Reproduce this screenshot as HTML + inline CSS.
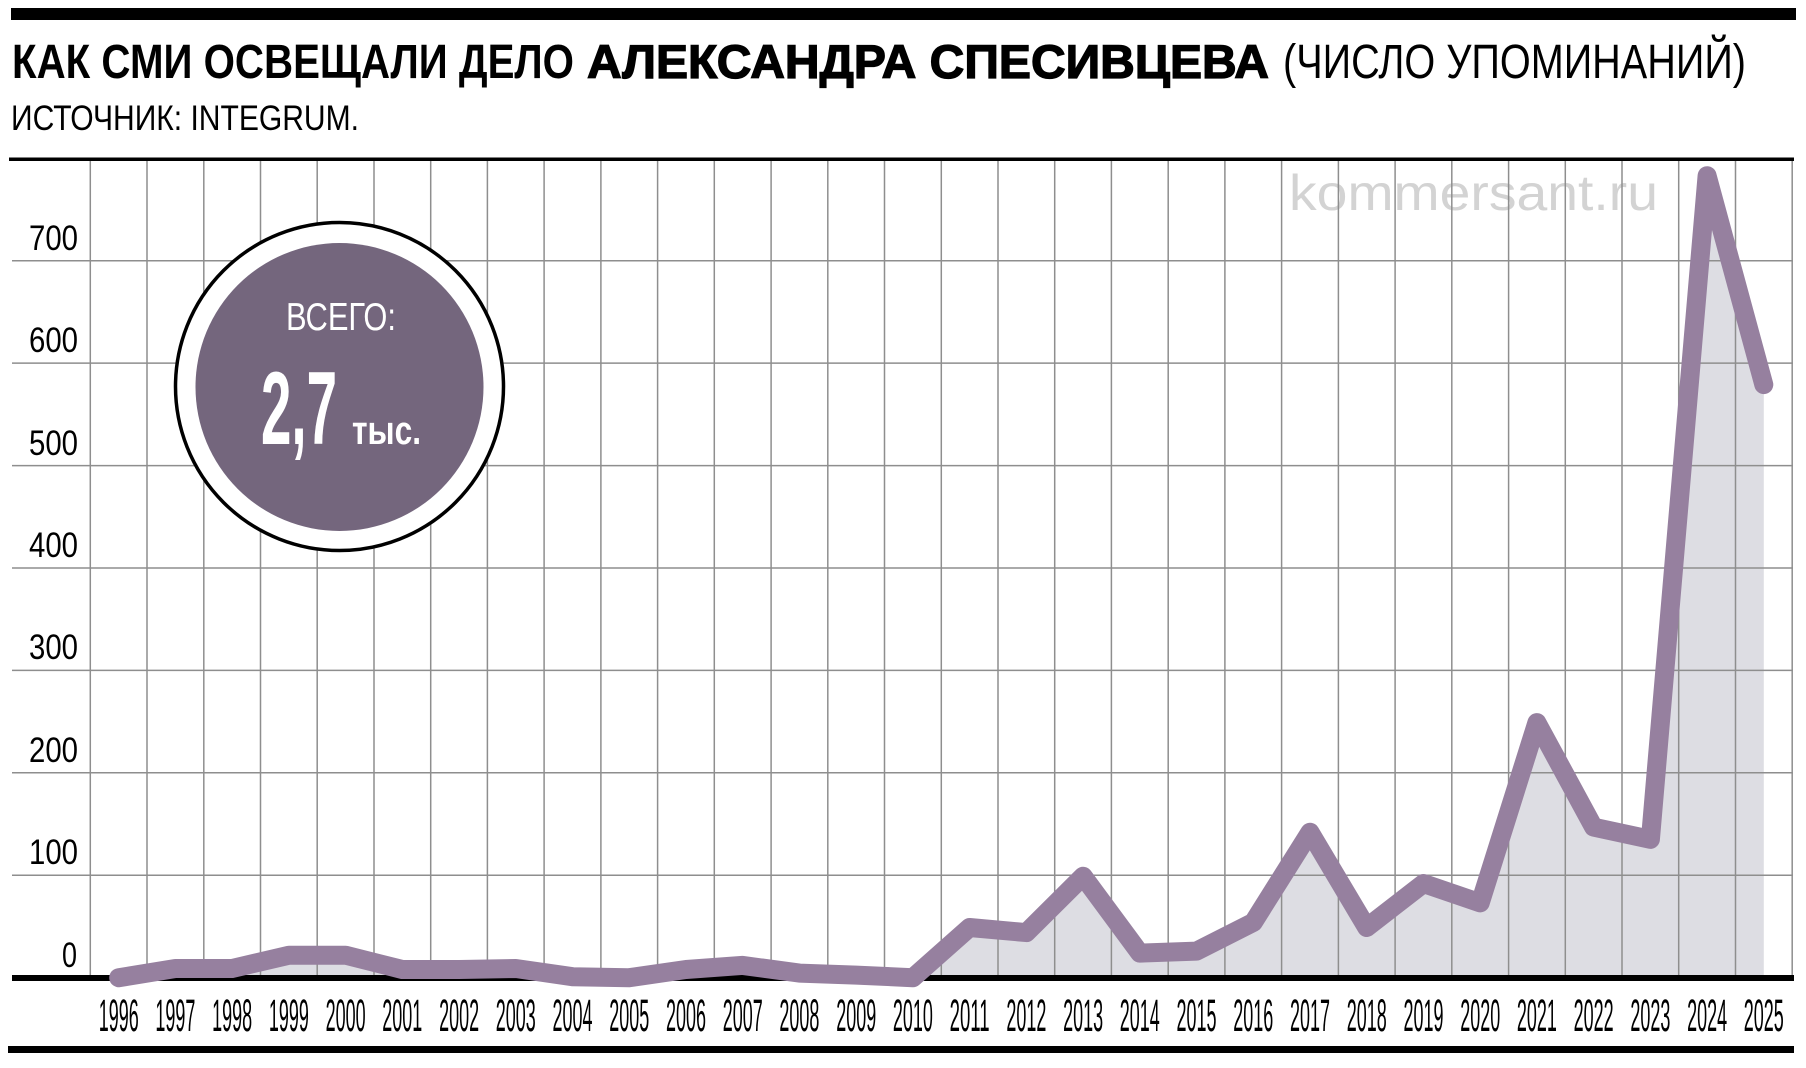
<!DOCTYPE html>
<html><head><meta charset="utf-8"><style>
html,body{margin:0;padding:0;background:#fff;}
svg{display:block;}
text{font-family:"Liberation Sans","Noto Sans CJK SC",sans-serif;}
</style></head><body>
<svg width="1806" height="1068" viewBox="0 0 1806 1068" xmlns="http://www.w3.org/2000/svg">
<rect x="0" y="0" width="1806" height="1068" fill="#fff"/>
<!-- top bar -->
<rect x="11" y="8" width="1785" height="12" fill="#000"/>
<!-- title -->
<text x="12" y="78" font-size="48" font-weight="700" fill="#000" textLength="562" lengthAdjust="spacingAndGlyphs">КАК СМИ ОСВЕЩАЛИ ДЕЛО</text>
<text x="587" y="78" font-size="47" font-weight="700" fill="#000" stroke="#000" stroke-width="1.3" textLength="682" lengthAdjust="spacingAndGlyphs">АЛЕКСАНДРА СПЕСИВЦЕВА</text>
<text x="1283" y="78" font-size="48" font-weight="400" fill="#000" textLength="463" lengthAdjust="spacingAndGlyphs">(ЧИСЛО УПОМИНАНИЙ)</text>
<text x="11" y="130" font-size="35" font-weight="400" fill="#000" textLength="348" lengthAdjust="spacingAndGlyphs">ИСТОЧНИК: INTEGRUM.</text>

<!-- fill area -->
<polygon fill="#dddde3" points="118.7,977.7 175.4,968.5 232.1,968.5 288.9,955.2 345.6,955.2 402.3,969.5 459.1,969.5 515.8,968.5 572.5,976.7 629.2,977.7 686.0,969.5 742.7,965.4 799.4,973.1 856.2,975.1 912.9,977.7 969.6,927.5 1026.4,932.6 1083.1,876.3 1139.8,953.1 1196.5,951.1 1253.3,922.4 1310.0,832.2 1366.7,927.5 1423.5,883.5 1480.2,902.9 1536.9,722.6 1593.6,827.1 1650.4,839.4 1707.1,175.7 1763.8,384.6 1763.8,978 118.7,978"/>

<!-- watermark -->
<text x="1289" y="210" font-size="50" fill="#d3d3d3" textLength="369" lengthAdjust="spacingAndGlyphs">kommersant.ru</text>

<!-- grid -->
<g stroke="#8e8e8e" stroke-width="1.5" fill="none">
<line x1="12" y1="875.3" x2="1793" y2="875.3"/>
<line x1="12" y1="772.8" x2="1793" y2="772.8"/>
<line x1="12" y1="670.4" x2="1793" y2="670.4"/>
<line x1="12" y1="568.0" x2="1793" y2="568.0"/>
<line x1="12" y1="465.6" x2="1793" y2="465.6"/>
<line x1="12" y1="363.1" x2="1793" y2="363.1"/>
<line x1="12" y1="260.7" x2="1793" y2="260.7"/>
<line x1="90.3" y1="160" x2="90.3" y2="976"/>
<line x1="147.0" y1="160" x2="147.0" y2="976"/>
<line x1="203.8" y1="160" x2="203.8" y2="976"/>
<line x1="260.5" y1="160" x2="260.5" y2="976"/>
<line x1="317.2" y1="160" x2="317.2" y2="976"/>
<line x1="374.0" y1="160" x2="374.0" y2="976"/>
<line x1="430.7" y1="160" x2="430.7" y2="976"/>
<line x1="487.4" y1="160" x2="487.4" y2="976"/>
<line x1="544.1" y1="160" x2="544.1" y2="976"/>
<line x1="600.9" y1="160" x2="600.9" y2="976"/>
<line x1="657.6" y1="160" x2="657.6" y2="976"/>
<line x1="714.3" y1="160" x2="714.3" y2="976"/>
<line x1="771.1" y1="160" x2="771.1" y2="976"/>
<line x1="827.8" y1="160" x2="827.8" y2="976"/>
<line x1="884.5" y1="160" x2="884.5" y2="976"/>
<line x1="941.3" y1="160" x2="941.3" y2="976"/>
<line x1="998.0" y1="160" x2="998.0" y2="976"/>
<line x1="1054.7" y1="160" x2="1054.7" y2="976"/>
<line x1="1111.4" y1="160" x2="1111.4" y2="976"/>
<line x1="1168.2" y1="160" x2="1168.2" y2="976"/>
<line x1="1224.9" y1="160" x2="1224.9" y2="976"/>
<line x1="1281.6" y1="160" x2="1281.6" y2="976"/>
<line x1="1338.4" y1="160" x2="1338.4" y2="976"/>
<line x1="1395.1" y1="160" x2="1395.1" y2="976"/>
<line x1="1451.8" y1="160" x2="1451.8" y2="976"/>
<line x1="1508.6" y1="160" x2="1508.6" y2="976"/>
<line x1="1565.3" y1="160" x2="1565.3" y2="976"/>
<line x1="1622.0" y1="160" x2="1622.0" y2="976"/>
<line x1="1678.7" y1="160" x2="1678.7" y2="976"/>
<line x1="1735.5" y1="160" x2="1735.5" y2="976"/>
<line x1="1792.2" y1="160" x2="1792.2" y2="976"/>
</g>

<!-- top chart line & axis -->
<rect x="9" y="157.5" width="1785" height="3.5" fill="#000"/>
<rect x="12" y="975" width="1782" height="6" fill="#000"/>
<!-- bottom bar -->
<rect x="8" y="1046" width="1786" height="7" fill="#000"/>

<!-- y labels -->
<g font-size="35" fill="#000">
<text x="29" y="250" textLength="49" lengthAdjust="spacingAndGlyphs">700</text>
<text x="29" y="352" textLength="49" lengthAdjust="spacingAndGlyphs">600</text>
<text x="29" y="455" textLength="49" lengthAdjust="spacingAndGlyphs">500</text>
<text x="29" y="557" textLength="49" lengthAdjust="spacingAndGlyphs">400</text>
<text x="29" y="659" textLength="49" lengthAdjust="spacingAndGlyphs">300</text>
<text x="29" y="762" textLength="49" lengthAdjust="spacingAndGlyphs">200</text>
<text x="29" y="864" textLength="49" lengthAdjust="spacingAndGlyphs">100</text>
<text x="62" y="967" textLength="15" lengthAdjust="spacingAndGlyphs">0</text>
</g>

<!-- series line -->
<polyline fill="none" stroke="#96809f" stroke-width="19" stroke-linejoin="round" stroke-linecap="round" points="118.7,977.7 175.4,968.5 232.1,968.5 288.9,955.2 345.6,955.2 402.3,969.5 459.1,969.5 515.8,968.5 572.5,976.7 629.2,977.7 686.0,969.5 742.7,965.4 799.4,973.1 856.2,975.1 912.9,977.7 969.6,927.5 1026.4,932.6 1083.1,876.3 1139.8,953.1 1196.5,951.1 1253.3,922.4 1310.0,832.2 1366.7,927.5 1423.5,883.5 1480.2,902.9 1536.9,722.6 1593.6,827.1 1650.4,839.4 1707.1,175.7 1763.8,384.6"/>

<!-- x labels -->
<g font-size="45" fill="#000" text-anchor="start">
<text x="98.7" y="1031" textLength="40" lengthAdjust="spacingAndGlyphs">1996</text>
<text x="155.4" y="1031" textLength="40" lengthAdjust="spacingAndGlyphs">1997</text>
<text x="212.1" y="1031" textLength="40" lengthAdjust="spacingAndGlyphs">1998</text>
<text x="268.9" y="1031" textLength="40" lengthAdjust="spacingAndGlyphs">1999</text>
<text x="325.6" y="1031" textLength="40" lengthAdjust="spacingAndGlyphs">2000</text>
<text x="382.3" y="1031" textLength="40" lengthAdjust="spacingAndGlyphs">2001</text>
<text x="439.1" y="1031" textLength="40" lengthAdjust="spacingAndGlyphs">2002</text>
<text x="495.8" y="1031" textLength="40" lengthAdjust="spacingAndGlyphs">2003</text>
<text x="552.5" y="1031" textLength="40" lengthAdjust="spacingAndGlyphs">2004</text>
<text x="609.2" y="1031" textLength="40" lengthAdjust="spacingAndGlyphs">2005</text>
<text x="666.0" y="1031" textLength="40" lengthAdjust="spacingAndGlyphs">2006</text>
<text x="722.7" y="1031" textLength="40" lengthAdjust="spacingAndGlyphs">2007</text>
<text x="779.4" y="1031" textLength="40" lengthAdjust="spacingAndGlyphs">2008</text>
<text x="836.2" y="1031" textLength="40" lengthAdjust="spacingAndGlyphs">2009</text>
<text x="892.9" y="1031" textLength="40" lengthAdjust="spacingAndGlyphs">2010</text>
<text x="949.6" y="1031" textLength="40" lengthAdjust="spacingAndGlyphs">2011</text>
<text x="1006.4" y="1031" textLength="40" lengthAdjust="spacingAndGlyphs">2012</text>
<text x="1063.1" y="1031" textLength="40" lengthAdjust="spacingAndGlyphs">2013</text>
<text x="1119.8" y="1031" textLength="40" lengthAdjust="spacingAndGlyphs">2014</text>
<text x="1176.5" y="1031" textLength="40" lengthAdjust="spacingAndGlyphs">2015</text>
<text x="1233.3" y="1031" textLength="40" lengthAdjust="spacingAndGlyphs">2016</text>
<text x="1290.0" y="1031" textLength="40" lengthAdjust="spacingAndGlyphs">2017</text>
<text x="1346.7" y="1031" textLength="40" lengthAdjust="spacingAndGlyphs">2018</text>
<text x="1403.5" y="1031" textLength="40" lengthAdjust="spacingAndGlyphs">2019</text>
<text x="1460.2" y="1031" textLength="40" lengthAdjust="spacingAndGlyphs">2020</text>
<text x="1516.9" y="1031" textLength="40" lengthAdjust="spacingAndGlyphs">2021</text>
<text x="1573.6" y="1031" textLength="40" lengthAdjust="spacingAndGlyphs">2022</text>
<text x="1630.4" y="1031" textLength="40" lengthAdjust="spacingAndGlyphs">2023</text>
<text x="1687.1" y="1031" textLength="40" lengthAdjust="spacingAndGlyphs">2024</text>
<text x="1743.8" y="1031" textLength="40" lengthAdjust="spacingAndGlyphs">2025</text>
</g>

<!-- total badge -->
<circle cx="339.5" cy="386.5" r="164" fill="#fff" stroke="#000" stroke-width="3.5"/>
<circle cx="339.5" cy="387" r="144" fill="#74667d"/>
<text x="286" y="330" font-size="39" font-weight="400" fill="#fff" textLength="110" lengthAdjust="spacingAndGlyphs">ВСЕГО:</text>
<text x="261" y="444" font-size="104" font-weight="700" fill="#fff" textLength="76" lengthAdjust="spacingAndGlyphs">2,7</text>
<text x="352" y="444" font-size="40" font-weight="700" fill="#fff" textLength="69" lengthAdjust="spacingAndGlyphs">тыс.</text>
</svg>
</body></html>
